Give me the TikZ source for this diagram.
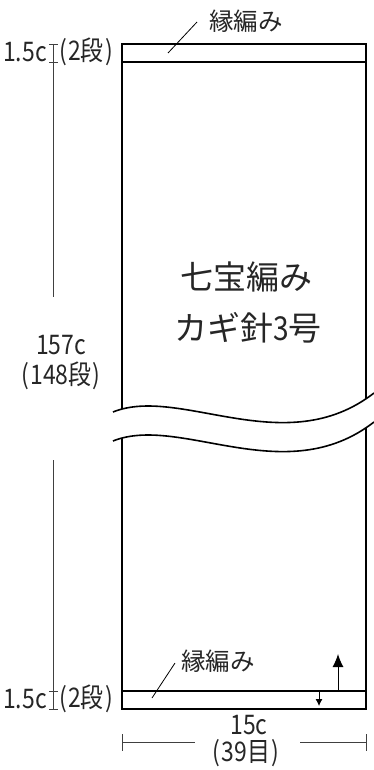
\documentclass[tikz,border=0pt]{standalone}
\usepackage{fontspec}
\usepackage{graphicx}
\setmainfont{Noto Sans CJK JP}
\usetikzlibrary{arrows.meta}
\newcommand{\cnd}[1]{\scalebox{0.85}[1]{#1}}
\newcommand{\po}{(\kern1.5pt}
\newcommand{\pc}{\kern1.5pt)}
\begin{document}
\begin{tikzpicture}[x=1pt,y=-1pt,
  outline/.style={line width=1.8pt,black},
  dimline/.style={line width=0.9pt,black!75},
  leader/.style={line width=0.8pt,black},
  lbl/.style={inner sep=0pt,font=\fontsize{24.5}{26}\selectfont,text=black!85},
  dim/.style={inner sep=0pt,font=\fontsize{27}{29}\selectfont,text=black!85},
  big/.style={inner sep=0pt,font=\fontsize{33}{35}\selectfont,text=black!85}]
\useasboundingbox (0,0) rectangle (374,770);
% main rectangle
\coordinate (tl) at (122,44);
\coordinate (br) at (366,709);
\draw[outline] (tl) rectangle (br);
\draw[outline] (122,62) -- (366,62);
\draw[outline] (122,691) -- (366,691);
% break waves
\fill[white] (113,412) .. controls (180,385) and (285,462) .. (374,393)
   -- (374,422) .. controls (285,491) and (180,414) .. (113,441) -- cycle;
\draw[line width=1.6pt] (113,412) .. controls (180,385) and (285,462) .. (374,393);
\draw[line width=1.6pt] (113,441) .. controls (180,414) and (285,491) .. (374,422);
% center text
\node[big] (t1) at (246,277) {七宝編み};
\node[big] (t2) at (248,328) {カギ針\cnd{3}号};
% top edge label
\node[lbl,anchor=west] (e1) at (209,21) {縁編み};
\coordinate (e1a) at (168,53);
\coordinate (e1b) at (197,22);
\draw[leader] (e1a) -- (e1b);
% bottom edge label
\node[lbl,anchor=west] (e2) at (181,661) {縁編み};
\coordinate (e2a) at (152,698);
\coordinate (e2b) at (175,663);
\draw[leader] (e2a) -- (e2b);
% direction arrows
\coordinate (u0) at (338,691);
\coordinate (u1) at (338,654);
\draw[line width=1pt,-{Latex[length=13pt,width=11pt]}] (u0) -- (u1);
\coordinate (d0) at (319,691);
\coordinate (d1) at (319,706);
\draw[line width=0.9pt,-{Latex[length=7pt,width=7pt]}] (d0) -- (d1);
% left dimension
\node[dim,anchor=east] (a1) at (47,52) {\cnd{1.5c}};
\node[dim,anchor=west] (a2) at (59,52) {\cnd{\po 2段\pc}};
\draw[dimline] (49,44) -- (58,44) (53.5,44) -- (53.5,62) (49,62) -- (58,62);
\coordinate (v1) at (53.5,62);
\coordinate (v2) at (53.5,297);
\draw[dimline] (v1) -- (v2);
\node[dim] (m1) at (61,345) {\cnd{157c}};
\node[dim] (m2) at (61,376) {\cnd{\po 148段\pc}};
\coordinate (v3) at (53.5,460);
\coordinate (v4) at (53.5,691);
\draw[dimline] (v3) -- (v4);
\node[dim,anchor=east] (b1) at (47,699) {\cnd{1.5c}};
\node[dim,anchor=west] (b2) at (59,699) {\cnd{\po 2段\pc}};
\draw[dimline] (49,691) -- (58,691) (53.5,691) -- (53.5,709) (49,709) -- (58,709);
% bottom dimension
\node[dim] (w1) at (249,725) {\cnd{15c}};
\node[dim] (w2) at (246,753) {\cnd{\po 39目\pc}};
\coordinate (h1) at (122,742);
\coordinate (h2) at (195,742);
\coordinate (h3) at (300,742);
\coordinate (h4) at (366,742);
\draw[dimline] (h1) -- (h2) (h3) -- (h4);
\draw[dimline] (122,734) -- (122,751) (366,734) -- (366,751);
\end{tikzpicture}
\end{document}
